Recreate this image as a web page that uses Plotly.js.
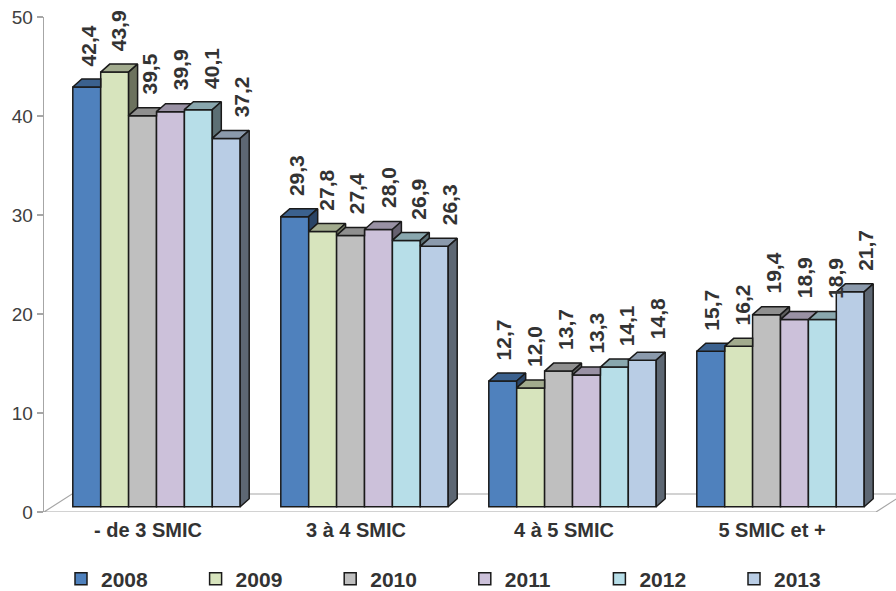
<!DOCTYPE html>
<html>
<head>
<meta charset="utf-8">
<script src="https://cdn.plot.ly/plotly-3.0.1.min.js"></script>
<style>
  html, body { margin: 0; padding: 0; background: #ffffff; }
  #chart { width: 896px; height: 591px; }
</style>
</head>
<body>
<div id="chart"></div>
<script>
// Share of employees by wage band (in SMIC multiples), 2008-2013
const categories = ['- de 3 SMIC', '3 à 4 SMIC', '4 à 5 SMIC', '5 SMIC et +'];
const years = ['2008', '2009', '2010', '2011', '2012', '2013'];
const v2008 = [42.4, 29.3, 12.7, 15.7];
const v2009 = [43.9, 27.8, 12.0, 16.2];
const v2010 = [39.5, 27.4, 13.7, 19.4];
const v2011 = [39.9, 28.0, 13.3, 18.9];
const v2012 = [40.1, 26.9, 14.1, 18.9];
const v2013 = [37.2, 26.3, 14.8, 21.7];
const yTicks = [0, 10, 20, 30, 40, 50];

const series = [v2008, v2009, v2010, v2011, v2012, v2013];

// face colours: front, top, side
const frontColors = ['#4f81bd', '#d7e4bd', '#bfbfbf', '#ccc1da', '#b7dee8', '#b9cde5'];
const topColors   = ['#3b618e', '#a2ab8e', '#8f8f8f', '#9991a4', '#89a7ae', '#8b9aac'];
const sideColors  = ['#2a4466', '#6c725e', '#5f5f5f', '#666170', '#5c6f74', '#5d6773'];
const EDGE = '#1a1a1a';
const FONT = 'Liberation Sans, Arial, sans-serif';

// geometry (pixels -> axis units)
const W = 896, H = 591;
const M_L = 44, M_R = 0, M_T = 17, M_B = 79;
const plotW = W - M_L - M_R;
const plotH = H - M_T - M_B;
const PX_X = 208;                 // pixels per category
const PX_Y = plotH / 50;          // pixels per percentage point
const BAR_W = 27.9 / PX_X;
const GROUP_SHIFT = 8.5 / PX_X;
const DEPTH_X = 9 / PX_X, DEPTH_Y = 8 / PX_Y;
const LIFT = 5.3 / PX_Y;          // bars stand a little behind the floor's front edge
const FLOOR_X = 28 / PX_X, FLOOR_Y = 18 / PX_Y;
const LABEL_SHIFT = 8.2 / PX_X, LABEL_STEP = 30.7 / PX_X, LABEL_GAP = 19;

const xRange = [-0.5, -0.5 + plotW / PX_X];
const fmt = v => v.toFixed(1).replace('.', ',');

const traces = [];
const annotations = [];

series.forEach((vals, k) => {
  const offset = GROUP_SHIFT + (k - 3) * BAR_W;
  // front faces
  traces.push({
    type: 'bar', name: years[k],
    x: categories.map((_, i) => i), y: vals,
    width: BAR_W, offset: offset,
    marker: { color: frontColors[k], line: { color: EDGE, width: 1.5 } },
    hoverinfo: 'skip', textposition: 'none'
  });

  // top and side faces, trimmed where the neighbouring bar hides them
  const next = k < series.length - 1 ? series[k + 1] : null;
  const topX = [], topY = [], sideX = [], sideY = [];
  vals.forEach((v, i) => {
    const x0 = i + offset, x1 = x0 + BAR_W;
    const n = next ? next[i] : null;
    if (n === null || n <= v) {
      topX.push(x0, x1, x1 + DEPTH_X, x0 + DEPTH_X, x0, null);
      topY.push(v, v, v + DEPTH_Y, v + DEPTH_Y, v, null);
    } else {
      const c = Math.min(n - v, DEPTH_Y);
      const xc = x1 + (DEPTH_Y - c) * DEPTH_X / DEPTH_Y;
      topX.push(x0, x1, x1, xc, x0 + DEPTH_X, x0, null);
      topY.push(v, v, v + c, v + DEPTH_Y, v + DEPTH_Y, v, null);
    }
    const low = n === null ? 0 : n;
    if (low < v) {
      sideX.push(x1, x1, x1 + DEPTH_X, x1 + DEPTH_X, x1, null);
      sideY.push(low, v, v + DEPTH_Y, low + DEPTH_Y, low, null);
    }
    annotations.push({
      x: i + GROUP_SHIFT + LABEL_SHIFT + (k - 2.5) * LABEL_STEP,
      y: v, xref: 'x', yref: 'y',
      text: fmt(v), textangle: -90, showarrow: false,
      xanchor: 'center', yanchor: 'bottom', yshift: LABEL_GAP,
      font: { family: FONT, size: 21, weight: 'bold', color: '#333333' }
    });
  });
  traces.push({
    type: 'scatter', mode: 'lines', x: topX, y: topY,
    fill: 'toself', fillcolor: topColors[k],
    line: { color: EDGE, width: 1.5 }, showlegend: false, hoverinfo: 'skip'
  });
  if (sideX.length) {
    traces.push({
      type: 'scatter', mode: 'lines', x: sideX, y: sideY,
      fill: 'toself', fillcolor: sideColors[k],
      line: { color: EDGE, width: 1.5 }, showlegend: false, hoverinfo: 'skip'
    });
  }
});

// floor outline, in front-axis units
const fx0 = -0.5, fx1 = categories.length - 0.5;
const floorPath = `M${fx0},0 L${fx1},0 L${fx1 + FLOOR_X},${FLOOR_Y} L${fx0 + FLOOR_X},${FLOOR_Y} Z`;

const layout = {
  width: W, height: H,
  margin: { l: M_L, r: M_R, t: M_T, b: M_B, pad: 0 },
  paper_bgcolor: '#ffffff', plot_bgcolor: 'rgba(0,0,0,0)',
  barmode: 'overlay',
  showlegend: true,
  font: { family: FONT, color: '#333333' },
  xaxis: {
    range: xRange, tickvals: categories.map((_, i) => i), ticktext: categories,
    showgrid: false, zeroline: false, showline: false, ticks: '',
    ticklabelstandoff: 4,
    tickfont: { size: 20, weight: 'bold', color: '#333333' },
    fixedrange: true
  },
  yaxis: {
    range: [-LIFT, 50 - LIFT], visible: false, fixedrange: true
  },
  yaxis2: {
    overlaying: 'y', side: 'left', anchor: 'x',
    range: [0, 50], tickvals: yTicks, ticktext: yTicks.map(String),
    showgrid: false, zeroline: false,
    showline: true, linecolor: '#a6a6a6', linewidth: 1.3,
    ticks: 'outside', ticklen: 6, tickcolor: '#a6a6a6', tickwidth: 1.3,
    tickfont: { size: 19, color: '#404040' },
    fixedrange: true
  },
  shapes: [{
    type: 'path', xref: 'x', yref: 'y2', path: floorPath,
    line: { color: '#a6a6a6', width: 1.2 }, fillcolor: 'rgba(0,0,0,0)', layer: 'below'
  }],
  annotations: annotations,
  legend: {
    orientation: 'h', xref: 'container', yref: 'container',
    x: 61 / W, y: 1 - 579 / H, xanchor: 'left', yanchor: 'middle',
    entrywidth: 89.6, entrywidthmode: 'pixels',
    font: { size: 21, weight: 'bold', color: '#333333' },
    bgcolor: 'rgba(0,0,0,0)', borderwidth: 0, traceorder: 'normal'
  }
};

Plotly.newPlot('chart', traces, layout, { displayModeBar: false, staticPlot: true });
</script>
</body>
</html>
